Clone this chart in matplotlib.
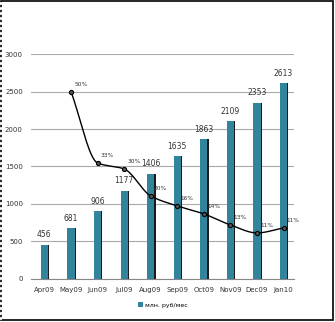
import numpy as np
import matplotlib.pyplot as plt
from matplotlib.patches import Rectangle

months=['Apr09','May09','Jun09','Jul09','Aug09','Sep09','Oct09','Nov09','Dec09','Jan10']
revenue=[456,681,906,1177,1406,1635,1863,2109,2353,2613]
# growth line in the units of the left axis (starts at May09)
growth_pos=[2500,1547,1467,1107,973,867,720,613,680]
growth_lbl=['50%','33%','30%','20%','16%','14%','13%','11%','11%']
legend_lbl='млн. руб/мес'

def smooth(x,y,n=20):
    # monotone cubic (pchip) so the curve doesn't overshoot
    x=np.asarray(x,float); y=np.asarray(y,float)
    h=np.diff(x); d=np.diff(y)/h
    m=np.zeros_like(y)
    for i in range(1,len(y)-1):
        if d[i-1]*d[i]>0:
            m[i]=2/(1/d[i-1]+1/d[i])
    m[0]=d[0]; m[-1]=d[-1]
    xs,ys=[],[]
    t=np.linspace(0,1,n)
    for i in range(len(x)-1):
        h00=2*t**3-3*t**2+1; h10=t**3-2*t**2+t
        h01=-2*t**3+3*t**2; h11=t**3-t**2
        xs.extend(x[i]+t*h[i])
        ys.extend(h00*y[i]+h10*h[i]*m[i]+h01*y[i+1]+h11*h[i]*m[i+1])
    return xs,ys

fig=plt.figure(figsize=(3.35,3.22),dpi=100)
ax=fig.add_axes([0.093,0.134,0.785,0.698])
x=np.arange(len(months))
w=0.27
ax.bar(x+0.05,revenue,width=w,color='#1a1a1a',zorder=2)
ax.bar(x,revenue,width=w,color='#31849B',zorder=3,label=legend_lbl)
for xi,v in zip(x,revenue):
    ax.text(xi,v+70,str(v),ha='center',va='bottom',fontsize=5.5,color='#333333')

lx,ly=smooth(x[1:],growth_pos)
ax.plot(lx,ly,color='black',lw=1,zorder=4)
ax.plot(x[1:],growth_pos,'o',ms=3,mfc='#555555',mec='black',mew=0.8,zorder=5)
for xi,v,l in zip(x[1:],growth_pos,growth_lbl):
    ax.text(xi+0.12,v+60,l,ha='left',va='bottom',fontsize=4.2,color='#333333',zorder=6)

ax.set_xlim(-0.5,9.4)
ax.set_ylim(0,3000)
ax.set_yticks(range(0,3001,500))
ax.set_xticks(x)
ax.set_xticklabels(months)
ax.tick_params(labelsize=5,length=0,colors='#333333',pad=6)
ax.grid(axis='y',color='#aaaaaa',lw=0.8,zorder=0)
for s in ['top','right','left']:
    ax.spines[s].set_visible(False)
ax.spines['bottom'].set_color('#888888')

ax.legend(loc='upper center',bbox_to_anchor=(0.5,-0.08),frameon=False,fontsize=4.5,
          handlelength=0.8,handleheight=0.8,handletextpad=0.3)

fig.patches.append(Rectangle((0.004,0.006),0.99,0.99,transform=fig.transFigure,
                             fill=False,edgecolor='black',lw=1.2))
fig.patches.append(Rectangle((0.004,0.006),0,0.99,transform=fig.transFigure,
                             fill=False,edgecolor='white',lw=1.2,ls=(0,(1,2))))
fig.savefig('out.png',dpi=100)
